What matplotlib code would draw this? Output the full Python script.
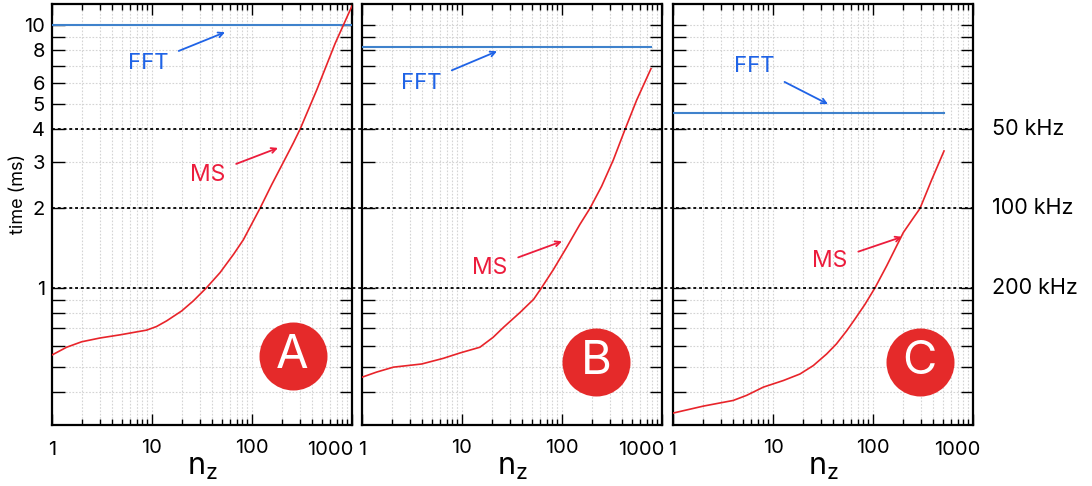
import numpy as np
import matplotlib
matplotlib.use("Agg")
import matplotlib.pyplot as plt
from matplotlib.ticker import FixedLocator, FuncFormatter, NullFormatter

plt.rcParams['font.family'] = ['Inter', 'DejaVu Sans']
plt.rcParams['mathtext.default'] = 'regular'

# ---------------- data ----------------
panel_letters = ['A', 'B', 'C']

ms_n_A = [1, 1.40, 1.98, 3.02, 4.79, 8.85, 11.1, 14.0, 19.8, 25.9, 35.2, 47.9, 65.5, 81.9,
          120, 157, 206, 259, 302, 443, 676, 1000]
ms_t_A = [0.554, 0.593, 0.622, 0.643, 0.661, 0.689, 0.711, 0.747, 0.815, 0.890, 1.0, 1.14, 1.34, 1.52,
          2.0, 2.46, 3.0, 3.55, 4.0, 5.64, 8.47, 11.8]

ms_n_B = [1, 1.40, 2.06, 3.95, 6.5, 9.55, 15.1, 20.5, 25.9, 38.0, 52.1, 62.6, 81.9, 111, 151,
          190, 249, 326, 427, 558, 776]
ms_t_B = [0.456, 0.477, 0.498, 0.512, 0.538, 0.564, 0.593, 0.647, 0.705, 0.804, 0.903, 1.0, 1.17, 1.42, 1.74,
          2.0, 2.43, 3.06, 4.0, 5.17, 6.81]

ms_n_C = [1, 2.01, 4.0, 5.45, 8.0, 12.7, 18.6, 25.3, 34.4, 43, 54.6, 66, 83.2, 105, 137,
          201, 253, 295, 386, 513]
ms_t_C = [0.333, 0.354, 0.372, 0.389, 0.418, 0.443, 0.469, 0.505, 0.559, 0.61, 0.685, 0.759, 0.864, 1.0, 1.21,
          1.62, 1.84, 2.0, 2.57, 3.31]

fft_t = [10.0, 8.2, 4.6]
fft_n_end = [1000, 780, 513]

rate_t = [4, 2, 1]
rate_labels = ['50 kHz', '100 kHz', '200 kHz']

y_ticks = [0.4, 0.5, 0.6, 0.7, 0.8, 0.9, 1, 2, 3, 4, 5, 6, 7, 8, 9, 10]
y_labelled = [1, 2, 3, 4, 5, 6, 8, 10]
x_major = [1, 10, 100, 1000]
x_labels = ['1', '10', '100', '1000']

# annotation positions (text, arrow tip) in data coords
fft_text = [(9.1, 7.13), (3.89, 5.99), (6.46, 6.95)]
fft_tip = [(53.7, 9.37), (22.4, 7.93), (35.5, 4.99)]
ms_text = [(36.3, 2.69), (19.05, 1.19), (37.2, 1.26)]
ms_tip = [(182, 3.40), (100, 1.50), (195, 1.56)]
circle_pos = [(0.802, 0.164), (0.78, 0.15), (0.823, 0.15)]
edge_label_shift_px = [(0, -22), (0, -21), (-1, -15.5)]

ms_n = [ms_n_A, ms_n_B, ms_n_C]
ms_t = [ms_t_A, ms_t_B, ms_t_C]

# ---------------- styling ----------------
W, H = 1092, 486
fig = plt.figure(figsize=(W / 100, H / 100), dpi=100)

RED_LINE = '#e8242a'
RED_TEXT = '#ec1c3c'
BLUE_LINE = '#3f82cc'
BLUE_TEXT = '#1f63e6'
CIRCLE = '#e52a2a'
YMIN, YMAX = 0.3, 12.0
TICK_FS = 14.5

lefts = [52, 362, 673]
top, bottom = 4, 425


def px_rect(l, r, t, b):
    return [l / W, (H - b) / H, (r - l) / W, (b - t) / H]


def xfmt(v, p):
    iv = int(round(v))
    if iv in x_major[1:-1]:
        return x_labels[x_major.index(iv)]
    return ''


axes = []
for i in range(3):
    ax = fig.add_axes(px_rect(lefts[i], lefts[i] + 300, top, bottom))
    axes.append(ax)
    ax.set_xscale('log')
    ax.set_yscale('log')
    ax.set_xlim(1, 1000)
    ax.set_ylim(YMIN, YMAX)

    ax.xaxis.set_major_locator(FixedLocator(x_major))
    minor_x = [m * d for d in [1, 10, 100] for m in range(2, 10)]
    ax.xaxis.set_minor_locator(FixedLocator(minor_x))
    ax.xaxis.set_major_formatter(FuncFormatter(xfmt))
    ax.xaxis.set_minor_formatter(NullFormatter())
    ax.yaxis.set_major_locator(FixedLocator(y_ticks))
    ax.yaxis.set_minor_locator(FixedLocator([]))
    if i == 0:
        ax.yaxis.set_major_formatter(FuncFormatter(
            lambda v, p: ('%g' % v) if any(abs(v - l) < 1e-6 for l in y_labelled) else ''))
    else:
        ax.yaxis.set_major_formatter(NullFormatter())

    ax.grid(True, which='both', axis='x', color='#d4d4d4', linestyle=(0, (1.5, 1.5)), linewidth=0.8)
    ax.grid(True, which='major', axis='y', color='#d4d4d4', linestyle=(0, (1.5, 1.5)), linewidth=0.8)
    ax.set_axisbelow(True)

    ax.tick_params(axis='both', which='both', direction='in', top=True, right=True,
                   labelsize=TICK_FS, colors='black', width=1.0)
    ax.tick_params(axis='y', which='major', length=9, pad=5)
    ax.tick_params(axis='x', which='major', length=8, pad=10)
    ax.tick_params(axis='x', which='minor', length=4)
    for s in ax.spines.values():
        s.set_linewidth(1.6)

    # first and last x tick labels ("1", "1000"), drawn at figure level to place them as in the reference
    for k, (xv, lab) in enumerate([(x_major[0], x_labels[0]), (x_major[-1], x_labels[-1])]):
        xpix = ax.transData.transform((xv, 1))[0] + edge_label_shift_px[i][k]
        fig.text(xpix / W, (H - 455) / H, lab, ha='center', va='baseline',
                 fontsize=TICK_FS, color='black', zorder=20)

    # FFT line
    ax.plot([1, fft_n_end[i]], [fft_t[i], fft_t[i]], color=BLUE_LINE, lw=1.5, zorder=3)
    # MS curve
    ax.plot(ms_n[i], ms_t[i], color=RED_LINE, lw=1.2, zorder=4)

    ax.annotate('FFT', xy=fft_tip[i], xytext=fft_text[i], ha='center', va='center',
                fontsize=16, color=BLUE_TEXT,
                arrowprops=dict(arrowstyle='->', color=BLUE_TEXT, lw=1.3, shrinkA=6, shrinkB=0,
                                mutation_scale=9))
    ax.annotate('MS', xy=ms_tip[i], xytext=ms_text[i], ha='center', va='center',
                fontsize=16.5, color=RED_TEXT,
                arrowprops=dict(arrowstyle='->', color=RED_TEXT, lw=1.3, shrinkA=6, shrinkB=0,
                                mutation_scale=9))

    cx, cy = circle_pos[i]
    ax.scatter([cx], [cy], s=(68 * 0.72) ** 2, color=CIRCLE, transform=ax.transAxes,
               zorder=6, linewidths=0, clip_on=False)
    ax.text(cx, cy, panel_letters[i], transform=ax.transAxes, ha='center', va='center',
            fontsize=34, color='white', zorder=7)

    ax.set_xlabel(r'$\mathregular{n_z}$', fontsize=22, labelpad=-2)

fig.text(18.5 / W, 1 - 194 / H, 'time (ms)', rotation=90, ha='center', va='center', fontsize=13)

# overlay for dotted rate lines spanning all panels
ov = fig.add_axes(px_rect(lefts[0], lefts[2] + 300, top, bottom))
ov.set_yscale('log')
ov.set_ylim(YMIN, YMAX)
ov.set_xlim(0, 1)
ov.patch.set_alpha(0)
ov.axis('off')
for t, lab in zip(rate_t, rate_labels):
    ov.axhline(t, color='black', lw=1.3, linestyle=(0, (1.6, 1.6)), zorder=2)
    ov.text(1.0206, t, lab, ha='left', va='center', fontsize=15.5, transform=ov.get_yaxis_transform())

fig.savefig('out.png', dpi=100)
